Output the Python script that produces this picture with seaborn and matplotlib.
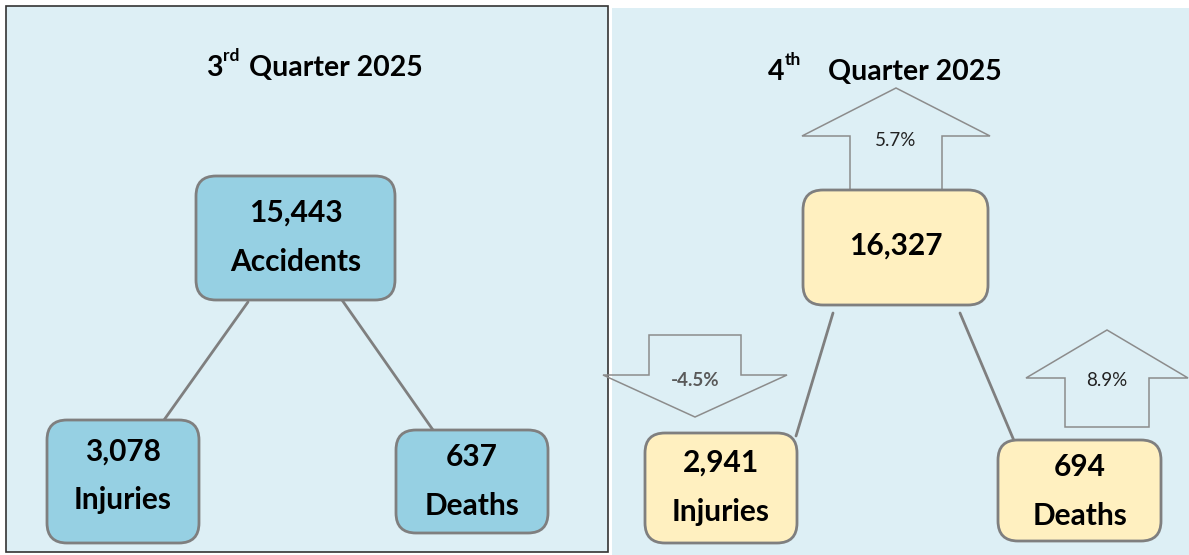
"""Quarterly road accident summary: Q3 vs Q4 2025."""
import matplotlib
matplotlib.use("Agg")
import matplotlib.pyplot as plt
import pandas as pd
import seaborn as sns
from matplotlib.patches import FancyBboxPatch, Polygon, Rectangle

# data
categories = ["Accidents", "Injuries", "Deaths"]
q3_values = [15443, 3078, 637]
q4_values = [16327, 2941, 694]
q3_title = ("3", "rd", "Quarter 2025")
q4_title = ("4", "th", "Quarter 2025")

PANEL_BG = "#DDEFF5"
Q3_BOX = "#96D0E3"
Q4_BOX = "#FFF0C0"
EDGE = "#7F7F7F"

sns.set_theme(style="white")
plt.rcParams["font.family"] = ["Lato", "DejaVu Sans"]

fig = plt.figure(figsize=(11.89, 5.55), dpi=100)
ax = fig.add_axes([0, 0, 1, 1])
ax.set_xlim(0, 1189)
ax.set_ylim(555, 0)
ax.set_aspect("equal")
ax.axis("off")

# panel backgrounds
ax.add_patch(Rectangle((612, 8), 577, 547, facecolor=PANEL_BG, edgecolor="none", zorder=0))
ax.add_patch(Rectangle((6, 6), 602, 546, facecolor=PANEL_BG, edgecolor="#333333",
                       linewidth=1.2, zorder=1))


def rbox(x0, y0, x1, y1, color):
    ax.add_patch(FancyBboxPatch((x0, y0), x1 - x0, y1 - y0,
                                boxstyle="round,pad=0,rounding_size=20",
                                facecolor=color, edgecolor=EDGE, linewidth=2, zorder=4))


def connectors(segs):
    rows = []
    for i, (p, q) in enumerate(segs):
        rows += [{"x": p[0], "y": p[1], "seg": i}, {"x": q[0], "y": q[1], "seg": i}]
    df = pd.DataFrame(rows)
    sns.lineplot(data=df, x="x", y="y", units="seg", estimator=None, sort=False,
                 color=EDGE, linewidth=2, ax=ax, zorder=3)


def arrow(cx, tip, base, end, half_head, half_shaft):
    pts = [(cx, tip), (cx + half_head, base), (cx + half_shaft, base),
           (cx + half_shaft, end), (cx - half_shaft, end), (cx - half_shaft, base),
           (cx - half_head, base)]
    ax.add_patch(Polygon(pts, closed=True, fill=False, edgecolor="#8C8C8C",
                         linewidth=1.1, zorder=2))


def title(parts, x_num, x_main, y):
    num, sup, main = parts
    ax.text(x_num, y, num, ha="left", va="center", fontsize=20.5, fontweight="bold", color="black", zorder=5)
    ax.text(x_num + 17, y - 12, sup, ha="left", va="center", fontsize=12.5, fontweight="bold", color="black", zorder=5)
    ax.text(x_main, y, main, ha="left", va="center", fontsize=20.5, fontweight="bold", color="black", zorder=5)


def pct(new, old):
    return f"{(new - old) / old * 100:.1f}%"


big = dict(ha="center", va="center", fontsize=21.5, fontweight="bold", color="black", zorder=5)

# ---- Q3 panel
title(q3_title, 206, 249, 68)
connectors([((248, 302), (164, 420)), ((342, 300), (433, 430))])
rbox(196, 176, 395, 300, Q3_BOX)
rbox(47, 420, 199, 543, Q3_BOX)
rbox(396, 430, 548, 533, Q3_BOX)
ax.text(296, 213, f"{q3_values[0]:,}", **big)
ax.text(296, 262, categories[0], **big)
ax.text(123, 452, f"{q3_values[1]:,}", **big)
ax.text(123, 500, categories[1], **big)
ax.text(472, 457, f"{q3_values[2]:,}", **big)
ax.text(472, 506, categories[2], **big)

# ---- Q4 panel
title(q4_title, 768, 828, 72)
arrow(896, 88, 136, 190, 94, 46)
arrow(695, 417, 375, 335, 92, 46)
arrow(1107, 330, 378, 427, 81, 42)
ax.text(896, 141, pct(q4_values[0], q3_values[0]), ha="center", va="center",
        fontsize=13.5, color="#222222", zorder=5)
ax.text(695, 381, pct(q4_values[1], q3_values[1]), ha="center", va="center",
        fontsize=13.5, fontweight="bold", color="#595959", zorder=5)
ax.text(1107, 380, pct(q4_values[2], q3_values[2]), ha="center", va="center",
        fontsize=13.5, color="#222222", zorder=5)

connectors([((833, 313), (796, 436)), ((960, 313), (1015, 443))])
rbox(803, 190, 988, 305, Q4_BOX)
rbox(645, 433, 797, 543, Q4_BOX)
rbox(998, 440, 1161, 541, Q4_BOX)
ax.text(896, 246, f"{q4_values[0]:,}", **big)
ax.text(721, 463, f"{q4_values[1]:,}", **big)
ax.text(721, 512, categories[1], **big)
ax.text(1080, 467, f"{q4_values[2]:,}", **big)
ax.text(1080, 516, categories[2], **big)

fig.savefig("out.png", dpi=100, facecolor="white")
